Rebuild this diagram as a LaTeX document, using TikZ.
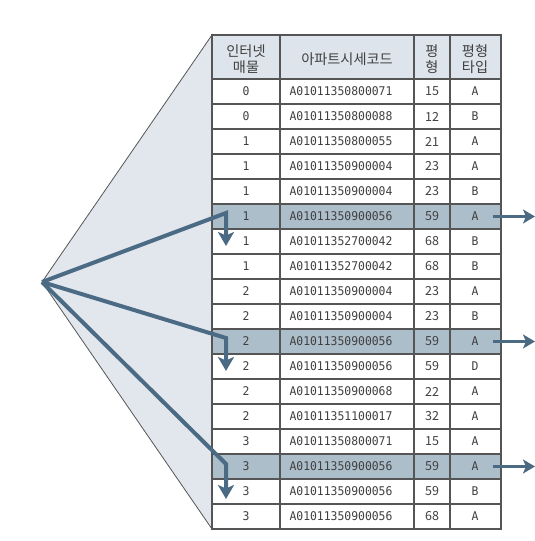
\documentclass[tikz,border=0pt]{standalone}
\usepackage{fontspec}
\setmainfont{Noto Sans CJK KR}
\newfontfamily\codefont[FakeStretch=0.95]{DejaVu Sans Mono}
\newfontfamily\krfont{Noto Sans CJK KR}
\usetikzlibrary{arrows.meta}
\definecolor{arrowc}{HTML}{4B6A84}
\definecolor{funnelc}{HTML}{E2E7ED}
\definecolor{headc}{HTML}{DDE4EB}
\definecolor{hlc}{HTML}{ADBECB}
\definecolor{gridc}{HTML}{555555}
\definecolor{txtc}{HTML}{404040}
\tikzset{
  gridline/.style={draw=gridc, line width=1.1pt},
  funnel/.style={fill=funnelc, draw=gridc, line width=0.8pt, line join=miter},
  cell/.style={inner sep=0pt, text=txtc, anchor=center},
  codecell/.style={cell, font=\codefont\fontsize{12}{15}\selectfont},
  numcell/.style={cell, font=\krfont\fontsize{12.5}{14}\selectfont},
  headcell/.style={cell, align=center, font=\krfont\fontsize{14.2}{16}\selectfont},
  bigarrow/.style={draw=arrowc, line width=4pt, line join=miter,
    -{Stealth[length=14pt,width=16pt,inset=3.5pt]}},
  smallarrow/.style={draw=arrowc, line width=2.7pt,
    -{Stealth[length=12pt,width=14pt,inset=3pt]}}
}
\begin{document}
\begin{tikzpicture}[x=1pt,y=-1pt]
\useasboundingbox (0,0) rectangle (535,541);
% funnel
\coordinate (apex) at (42,282);
\coordinate (ttl) at (212,35);
\coordinate (tbl) at (212,529);
\filldraw[funnel] (apex) -- (ttl) -- (tbl) -- cycle;
% table backgrounds
\fill[white] (212,35) rectangle (501,529);
\fill[headc] (212,35) rectangle (501,79);
\fill[hlc] (212,204) rectangle (501,229);
\fill[hlc] (212,329) rectangle (501,354);
\fill[hlc] (212,454) rectangle (501,479);
% grid
\foreach \k in {0,...,17} { \draw[gridline] (212,79+25*\k) -- (501,79+25*\k); }
\foreach \xx in {280,414,450} { \draw[gridline] (\xx,35) -- (\xx,529); }
\draw[gridline] (212,35) rectangle (501,529);
% header
\node[headcell] (h1) at (246,59) {인터넷\\매물};
\node[headcell] (h2) at (347,59) {아파트시세코드};
\node[headcell] (h3) at (432,59) {평\\형};
\node[headcell] (h4) at (475,59) {평형\\타입};
% rows
\foreach \v/\c/\p/\t [count=\i from 0] in {
 0/A01011350800071/15/A,
 0/A01011350800088/12/B,
 1/A01011350800055/21/A,
 1/A01011350900004/23/A,
 1/A01011350900004/23/B,
 1/A01011350900056/59/A,
 1/A01011352700042/68/B,
 1/A01011352700042/68/B,
 2/A01011350900004/23/A,
 2/A01011350900004/23/B,
 2/A01011350900056/59/A,
 2/A01011350900056/59/D,
 2/A01011350900068/22/A,
 2/A01011351100017/32/A,
 3/A01011350800071/15/A,
 3/A01011350900056/59/A,
 3/A01011350900056/59/B,
 3/A01011350900056/68/A} {
  \node[codecell] (r\i a) at (246,91.5+25*\i) {\v};
  \node[codecell] (r\i b) at (341,91.5+25*\i) {\c};
  \node[numcell] (r\i c) at (432,91.5+25*\i) {\p};
  \node[codecell] (r\i d) at (475,91.5+25*\i) {\t};
}
% big arrows
\coordinate (b1) at (226,213);
\coordinate (t1) at (226,246);
\coordinate (b2) at (226,338);
\coordinate (t2) at (226,371);
\coordinate (b3) at (226,464);
\coordinate (t3) at (226,499);
\draw[bigarrow] (apex) -- (b1) -- (t1);
\draw[bigarrow] (apex) -- (b2) -- (t2);
\draw[bigarrow] (apex) -- (b3) -- (t3);
% right arrows
\coordinate (s1) at (493,216.5);
\coordinate (e1) at (535,216.5);
\coordinate (s2) at (493,341.5);
\coordinate (e2) at (535,341.5);
\coordinate (s3) at (493,466.5);
\coordinate (e3) at (535,466.5);
\draw[smallarrow] (s1) -- (e1);
\draw[smallarrow] (s2) -- (e2);
\draw[smallarrow] (s3) -- (e3);
\end{tikzpicture}
\end{document}
